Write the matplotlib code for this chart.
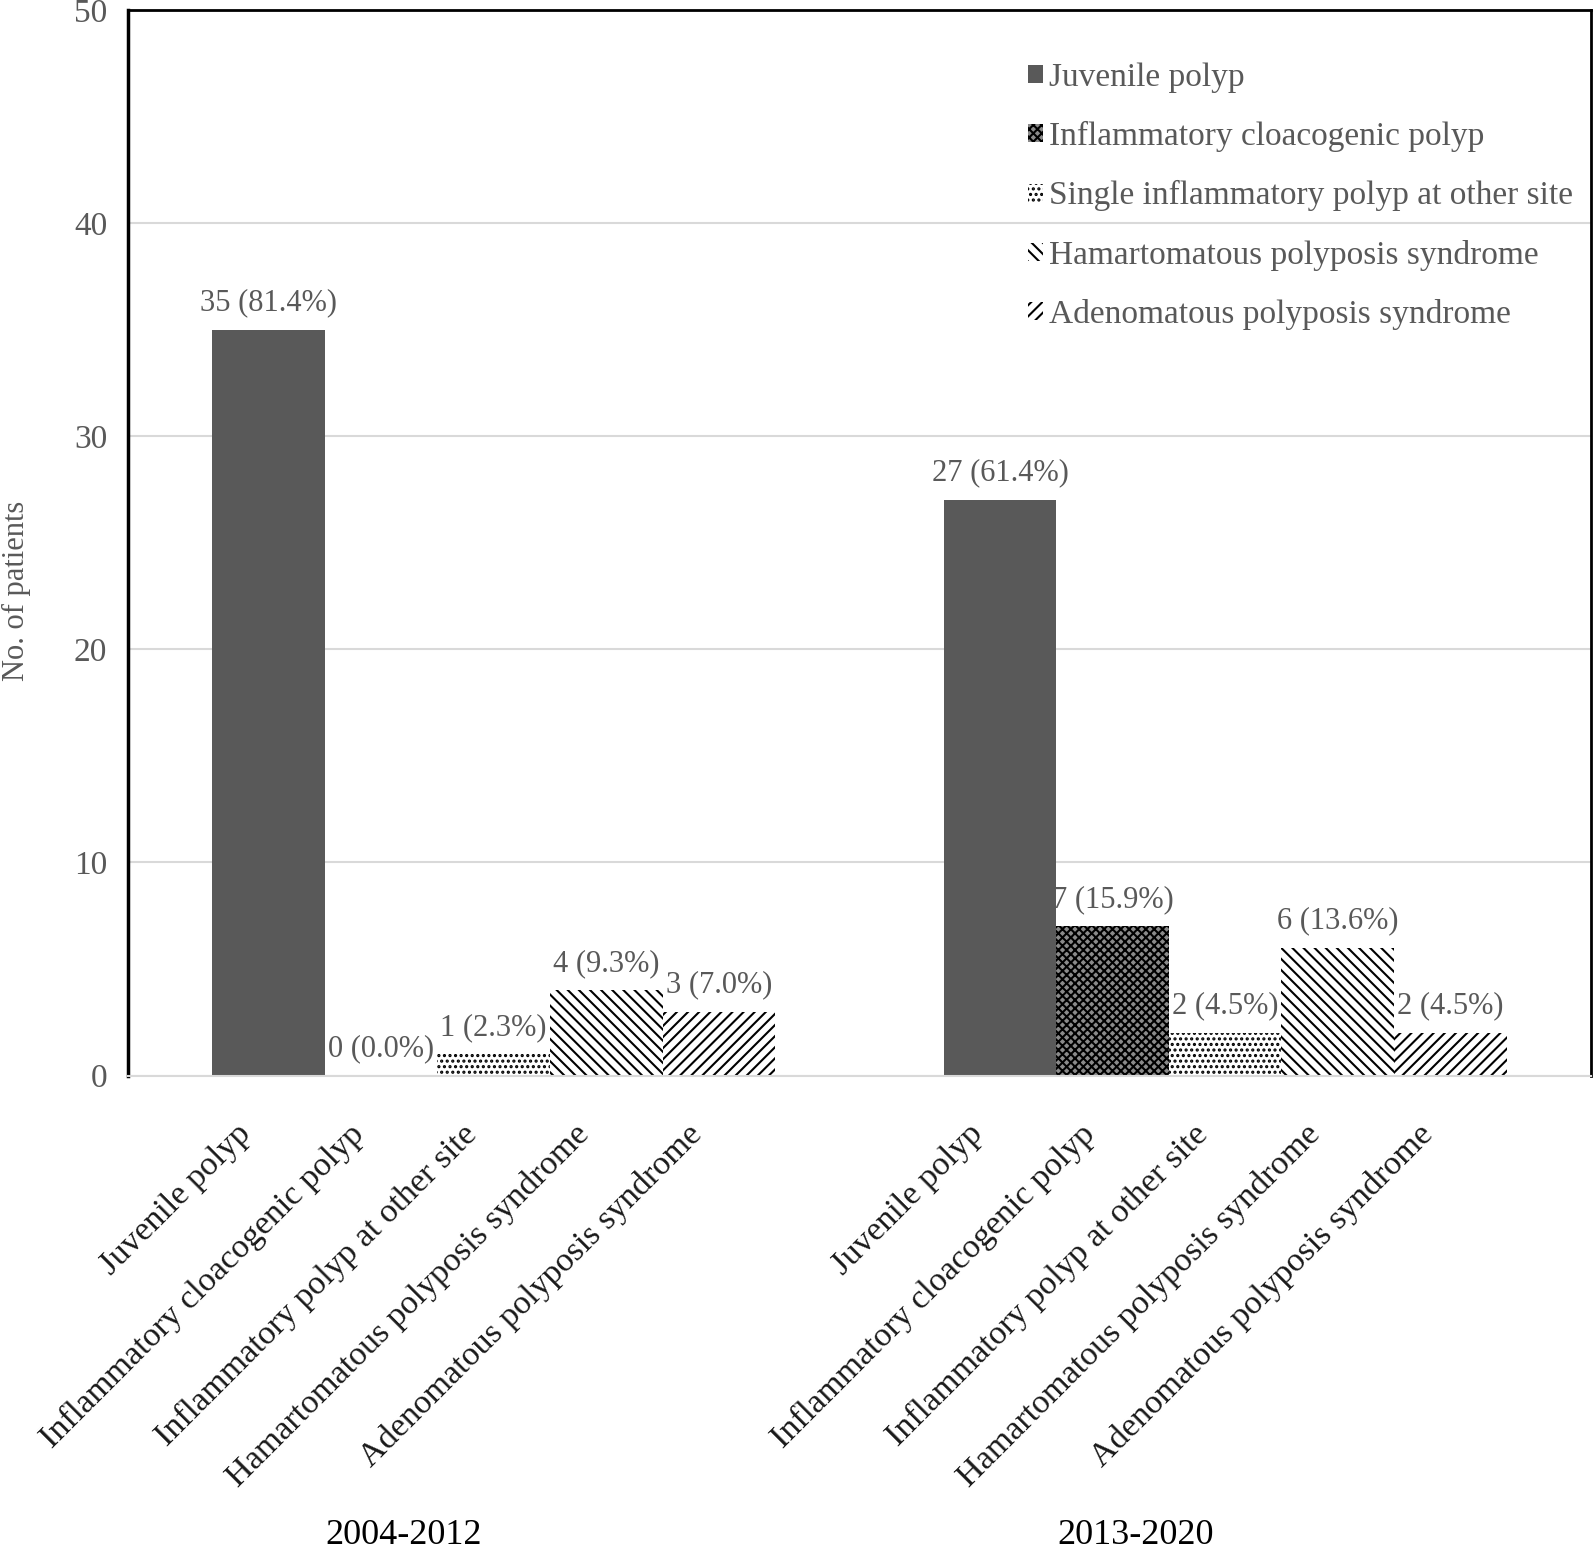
import numpy as np
import matplotlib
matplotlib.use('Agg')
from matplotlib import pyplot as plt
from matplotlib import transforms

periods = ['2004-2012', '2013-2020']
categories = ['Juvenile polyp', 'Inflammatory cloacogenic polyp',
              'Inflammatory polyp at other site', 'Hamartomatous polyposis syndrome',
              'Adenomatous polyposis syndrome']
legend_names = ['Juvenile polyp', 'Inflammatory cloacogenic polyp',
                'Single inflammatory polyp at other site', 'Hamartomatous polyposis syndrome',
                'Adenomatous polyposis syndrome']
counts_2004 = [35, 0, 1, 4, 3]
counts_2013 = [27, 7, 2, 6, 2]
pct_2004 = [81.4, 0.0, 2.3, 9.3, 7.0]
pct_2013 = [61.4, 15.9, 4.5, 13.6, 4.5]

plt.rcParams['font.family'] = ['Liberation Serif', 'DejaVu Serif']
plt.rcParams['hatch.linewidth'] = 1.5

gray = '#595959'
faces = [gray, '#8a8a8a', 'white', 'white', 'white']
hatches = [None, 'xxxx', '...', '\\\\\\', '///']

fig = plt.figure(figsize=(15.94, 15.52), dpi=100)
ax = fig.add_axes([0.0803, 0.307, 0.9178, 0.6866])

group_start = [0, 6.5]
n = len(categories)
for k in range(n):
    xs = [group_start[0] + k, group_start[1] + k]
    hs = [counts_2004[k], counts_2013[k]]
    ax.bar(xs, hs, width=1.0, color=faces[k], hatch=hatches[k],
           edgecolor='black' if hatches[k] else gray, linewidth=0,
           label=legend_names[k], zorder=2)
    for x, h, p in zip(xs, hs, [pct_2004[k], pct_2013[k]]):
        ax.annotate('{} ({:.1f}%)'.format(h, p), (x, h), xytext=(0, 9),
                    textcoords='offset points', ha='center', va='bottom',
                    fontsize=22, color=gray)

ticks = [g + k for g in group_start for k in range(n)]
ax.set_xticks(ticks)
ax.set_xticklabels(categories * 2, rotation=45, ha='right', va='center',
                   rotation_mode='anchor', fontsize=24.5, color='#1a1a1a')
ax.tick_params(axis='x', length=0, pad=28)
shift = transforms.ScaledTranslation(-0.22, -0.15, fig.dpi_scale_trans)
for lab in ax.get_xticklabels():
    lab.set_transform(lab.get_transform() + shift)
ax.set_xlim(-1.25, 11.75)

ax.set_ylim(0, 50)
ax.set_yticks(np.arange(0, 51, 10))
ax.tick_params(axis='y', length=0, labelsize=24, labelcolor=gray, pad=15)
ax.yaxis.grid(True, color='#d9d9d9', linewidth=1.5, zorder=0)
ax.set_axisbelow(True)
ax.set_ylabel('No. of patients', fontsize=22, color=gray)
ax.yaxis.set_label_coords(-0.066, 0.455)

ax.spines['left'].set_linewidth(2.5)
ax.spines['top'].set_linewidth(2)
ax.spines['right'].set_linewidth(2)
ax.spines['bottom'].set_color('#d9d9d9')
ax.spines['bottom'].set_linewidth(1.5)

trans = transforms.blended_transform_factory(ax.transData, fig.transFigure)
for g, label in zip(group_start, periods):
    ax.text(g + 2 - 0.8, 0.0, label, transform=trans, ha='center',
            va='bottom', fontsize=26, color='black')

ax.legend(loc='upper left', bbox_to_anchor=(0.615, 0.951), frameon=False,
          fontsize=24, labelcolor=gray, handlelength=0.45, handleheight=0.45,
          handletextpad=0.2, labelspacing=0.85, borderpad=0, borderaxespad=0)

fig.savefig('out.png', dpi=100)
